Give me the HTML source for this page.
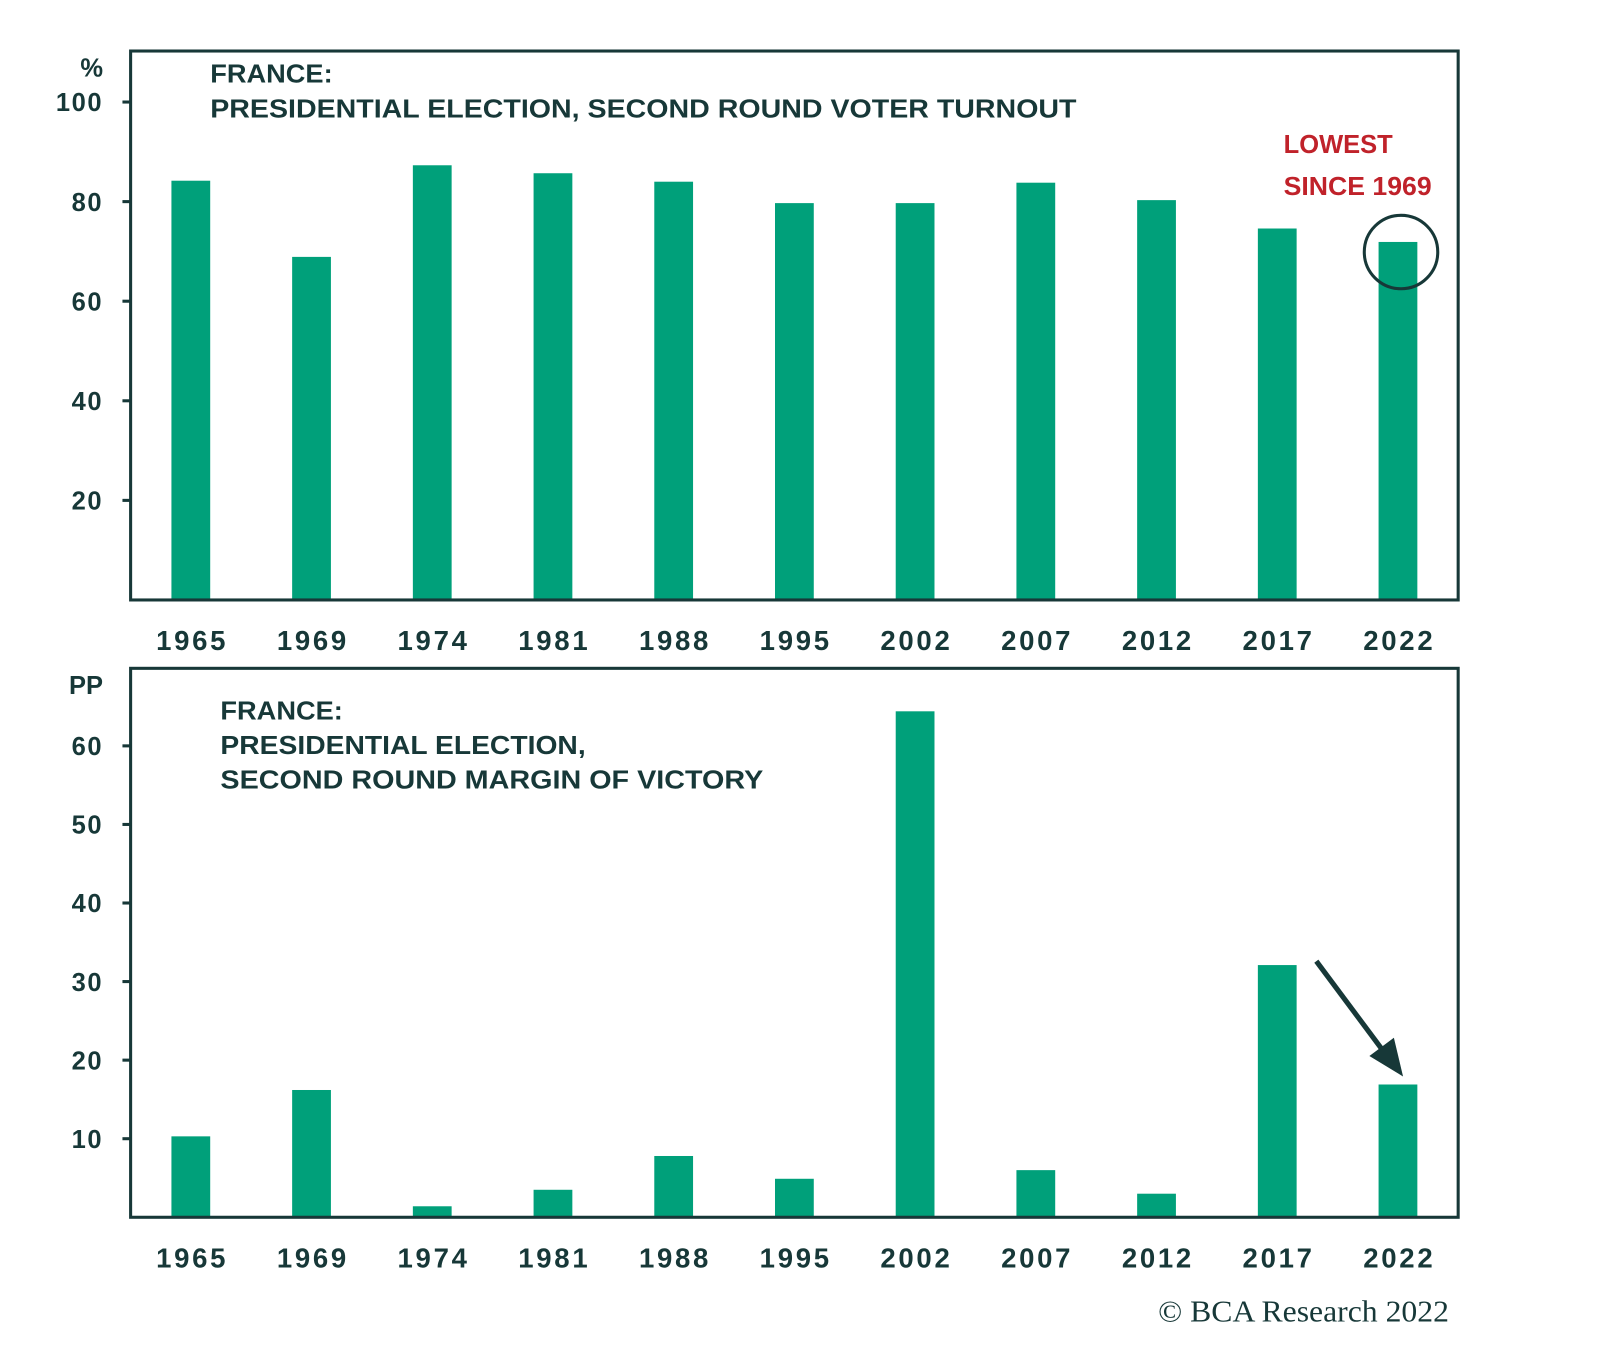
<!DOCTYPE html>
<html><head><meta charset="utf-8"><style>
html,body{margin:0;padding:0;background:#fff;}
svg{display:block;font-family:"Liberation Sans",sans-serif;}
</style></head><body>
<svg id="c" width="1600" height="1354" viewBox="0 0 1568 1327" preserveAspectRatio="none" xmlns="http://www.w3.org/2000/svg"></svg>
<script>
const years=["1965","1969","1974","1981","1988","1995","2002","2007","2012","2017","2022"];
const turnout=[84.2,68.9,87.3,85.7,84.0,79.7,79.7,83.8,80.3,74.6,71.9];
const margin=[10.3,16.2,1.4,3.5,7.8,4.9,64.4,6.0,3.0,32.1,16.9];
const topTicks=[20,40,60,80,100];
const botTicks=[10,20,30,40,50,60];
const NS="http://www.w3.org/2000/svg";
const svg=document.getElementById('c');
const dark="#173838", green="#00a07a";
function mk(t,a,p){const e=document.createElementNS(NS,t);for(const k in a)e.setAttribute(k,a[k]);(p||svg).appendChild(e);return e;}
const x0=128,x1=1429;
function xc(i){return 187+i*(1370-187)/(years.length-1);}
function panel(name,yTop,yBot,vmax,pxTop,vals,ticks,unit,titleLines,titleLens,tx,ty){
  const g=mk('g',{});
  
  
  const y=v=>yBot-(v/vmax)*(yBot-pxTop);
  vals.forEach((v,i)=>{
    const r=mk('rect',{x:xc(i)-19,y:y(v),width:38,height:yBot-y(v),fill:green},g);
    
    
  });
  const f=mk('rect',{x:x0,y:yTop,width:x1-x0,height:yBot-yTop,fill:'none',stroke:dark,'stroke-width':3},g);
  
  
  ticks.forEach(t=>{
    mk('line',{x1:x0-8,x2:x0,y1:y(t),y2:y(t),stroke:dark,'stroke-width':3},g);
    const l=mk('text',{x:101,y:y(t)+9,'text-anchor':'end','font-size':25,'font-weight':'bold',fill:dark,'letter-spacing':1.5},g);
    l.textContent=t;
    
    
  });
  const u=mk('text',{x:101,y:yTop+25,'text-anchor':'end','font-size':25,'font-weight':'bold',fill:dark},g);
  u.textContent=unit;
  
  
  years.forEach((yr,i)=>{
    const l=mk('text',{x:xc(i),y:yBot+49,'text-anchor':'middle','font-size':27,'font-weight':'bold',fill:dark,'textLength':68,'lengthAdjust':'spacing'},g);
    l.textContent=yr;
    
    
  });
  titleLines.forEach((s,i)=>{
    const t=mk('text',{x:tx,y:ty+i*34,'font-size':25,'font-weight':'bold',fill:dark,'textLength':titleLens[i],'lengthAdjust':'spacingAndGlyphs'},g);
    t.textContent=s;
    
    
  });
  return y;
}
panel('turnout-panel',50,588,100,100,turnout,topTicks,'%',["FRANCE:","PRESIDENTIAL ELECTION, SECOND ROUND VOTER TURNOUT"],[120,849],206,81);
panel('margin-panel',655,1193,60,731,margin,botTicks,'PP',["FRANCE:","PRESIDENTIAL ELECTION,","SECOND ROUND MARGIN OF VICTORY"],[120,358,532],216,705);
const a1=mk('text',{x:1258,y:150,'font-size':25,'font-weight':'bold',fill:'#c0222a'});a1.textContent='LOWEST';


const a2=mk('text',{x:1258,y:191,'font-size':25,'font-weight':'bold',fill:'#c0222a','textLength':145,'lengthAdjust':'spacingAndGlyphs'});a2.textContent='SINCE 1969';


const c=mk('circle',{cx:1373,cy:247,r:36,fill:'none',stroke:dark,'stroke-width':3});


const ar=mk('line',{x1:1290,y1:942,x2:1360,y2:1036,stroke:dark,'stroke-width':5});


const ah=mk('polygon',{points:'1375,1055 1342,1035 1366,1017',fill:dark});


const cp=mk('text',{x:1420,y:1295,'text-anchor':'end','font-size':30,fill:dark,'font-family':'Liberation Serif,serif','textLength':285,'lengthAdjust':'spacingAndGlyphs'});
cp.textContent='© BCA Research 2022';


</script>
</body></html>
